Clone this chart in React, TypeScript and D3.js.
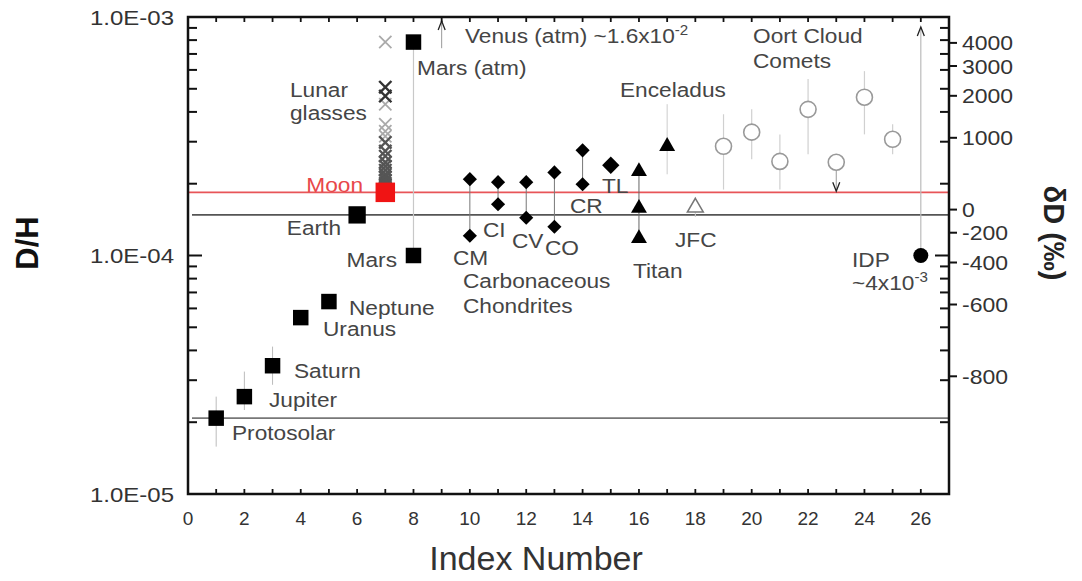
import React from 'react';
import * as d3 from 'd3';

// D/H values, index number on x
const bodyNames = ['Protosolar', 'Jupiter', 'Saturn', 'Uranus', 'Neptune', 'Earth', 'Mars', 'Mars (atm)'];
const bodyIndex = [1, 2, 3, 4, 5, 6, 8, 8];
const bodyDH = [2.08e-5, 2.56e-5, 3.45e-5, 5.49e-5, 6.41e-5, 1.48e-4, 1.0e-4, 7.85e-4];
const bodyErrLo = [1.58e-5, 2.25e-5, 2.87e-5, null, null, null, null, null];
const bodyErrHi = [2.56e-5, 3.26e-5, 4.15e-5, null, null, null, null, null];

const moonIndex = 7;
const moonDH = 1.84e-4;
const lunarLight = [7.85e-4, 4.31e-4, 3.55e-4, 3.32e-4, 3.16e-4];
const lunarDark = [5.08e-4, 4.66e-4, 2.98e-4, 2.74e-4, 2.61e-4, 2.46e-4, 2.37e-4, 2.28e-4, 2.19e-4, 2.13e-4, 2.07e-4, 2.01e-4, 1.95e-4];

const venusIndex = 9;
const venusFrom = 7.4e-4;

const chondriteNames = ['CM', 'CI', 'CV', 'CO', 'CR', 'TL'];
const chondriteIndex = [10, 11, 12, 13, 14, 15];
const chondriteHigh = [2.09e-4, 2.03e-4, 2.03e-4, 2.23e-4, 2.76e-4, 2.39e-4];
const chondriteLow = [1.21e-4, 1.64e-4, 1.44e-4, 1.32e-4, 1.99e-4, null];

const titanIndex = 16;
const titanDH = [2.25e-4, 1.58e-4, 1.18e-4];
const enceladusIndex = 17;
const enceladusDH = 2.87e-4;
const enceladusErr = [2.19e-4, 4.31e-4];
const jfcIndex = 18;
const jfcDH = 1.59e-4;
const jfcErr = [1.45e-4, 1.75e-4];

const oortIndex = [19, 20, 21, 22, 23, 24, 25];
const oortDH = [2.87e-4, 3.29e-4, 2.48e-4, 4.1e-4, 2.46e-4, 4.61e-4, 3.07e-4];
const oortLo = [1.89e-4, 2.53e-4, 1.89e-4, 2.66e-4, 1.86e-4, 3.22e-4, 2.66e-4];
const oortHi = [3.91e-4, 4.1e-4, 3.22e-4, 5.49e-4, null, 5.93e-4, 3.55e-4];

const idpIndex = 26;
const idpDH = 1.0e-4;

const protosolarLine = 2.08e-5;
const earthLine = 1.48e-4;

const xTicks = d3.range(0, 27, 2);
const yLabels = [1e-3, 1e-4, 1e-5];
const yTickText = ['1.0E-03', '1.0E-04', '1.0E-05'];
const dDTicks = [4000, 3000, 2000, 1000, 0, -200, -400, -600, -800];
const VSMOW = 1.5576e-4;

const W = 1082, H = 581;
const L = 188, R = 949, TOP = 17, BOT = 494;
const font = 'Liberation Sans, Arial, Helvetica, sans-serif';

const x = d3.scaleLinear().domain([0, 27]).range([L, R]);
const y = d3.scaleLog().domain([1e-5, 1e-3]).range([BOT, TOP]);
const yD = (d: number) => y(VSMOW * (1 + d / 1000));

const sym = (type: any, size: number) => d3.symbol().type(type).size(size)() as string;

const T = ({ x, y, children, size = 21, anchor = 'start', fill = '#454545', sx = 1.08, weight = 'normal', rotate = 0 }: any) => (
  <text
    transform={`translate(${x},${y}) rotate(${rotate}) scale(${sx},1)`}
    fontSize={size}
    textAnchor={anchor}
    fill={fill}
    fontWeight={weight}
    fontFamily={font}
  >
    {children}
  </text>
);

const Arrow = ({ cx, cy, dir }: any) => (
  <path d={`M${cx - 3.5},${cy + dir * -9} L${cx},${cy} L${cx + 3.5},${cy + dir * -9}`} fill="none" stroke="#222" strokeWidth={1.3} />
);

export default function App() {
  const minor: number[] = [];
  [1e-5, 1e-4].forEach(dec => {
    for (let k = 2; k <= 9; k++) minor.push(dec * k);
  });
  const sup = (txt: string) => (
    <tspan dy={-8} fontSize={14}>{txt}</tspan>
  );

  return (
    <svg width={W} height={H} style={{ position: 'absolute', left: 0, top: 0, background: '#fff' }}>
      <rect width={W} height={H} fill="#fff" />

      {/* reference lines */}
      <line x1={L + 4} x2={R} y1={y(protosolarLine)} y2={y(protosolarLine)} stroke="#777" strokeWidth={1.6} />
      <line x1={L + 4} x2={R} y1={y(earthLine)} y2={y(earthLine)} stroke="#555" strokeWidth={1.6} />
      <line x1={L} x2={R} y1={y(moonDH)} y2={y(moonDH)} stroke="#e85558" strokeWidth={1.6} />

      {/* error bars & ranges */}
      {bodyIndex.map((b, i) =>
        bodyErrLo[i] != null ? (
          <line key={'eb' + i} x1={x(b)} x2={x(b)} y1={y(bodyErrLo[i] as number)} y2={y(bodyErrHi[i] as number)} stroke="#bbb" strokeWidth={1} />
        ) : null
      )}
      <line x1={x(8)} x2={x(8)} y1={y(bodyDH[6])} y2={y(bodyDH[7])} stroke="#c8c8c8" strokeWidth={1.2} />
      <line x1={x(venusIndex)} x2={x(venusIndex)} y1={y(venusFrom)} y2={TOP + 4} stroke="#999" strokeWidth={1} />
      <Arrow cx={x(venusIndex)} cy={TOP + 4} dir={-1} />
      {chondriteIndex.map((c, i) =>
        chondriteLow[i] != null ? (
          <line key={'cl' + i} x1={x(c)} x2={x(c)} y1={y(chondriteLow[i] as number)} y2={y(chondriteHigh[i])} stroke="#777" strokeWidth={1} />
        ) : null
      )}
      <line x1={x(titanIndex)} x2={x(titanIndex)} y1={y(titanDH[0])} y2={y(titanDH[2])} stroke="#666" strokeWidth={1} />
      <line x1={x(enceladusIndex)} x2={x(enceladusIndex)} y1={y(enceladusErr[0])} y2={y(enceladusErr[1])} stroke="#ccc" strokeWidth={1} />
      <line x1={x(jfcIndex)} x2={x(jfcIndex)} y1={y(jfcErr[0])} y2={y(jfcErr[1])} stroke="#ccc" strokeWidth={1} />
      {oortIndex.map((o, i) =>
        oortHi[i] != null ? (
          <line key={'oe' + i} x1={x(o)} x2={x(o)} y1={y(oortLo[i])} y2={y(oortHi[i] as number)} stroke="#d0d0d0" strokeWidth={1.2} />
        ) : (
          <g key={'oe' + i}>
            <line x1={x(o)} x2={x(o)} y1={y(oortDH[i])} y2={y(oortLo[i])} stroke="#999" strokeWidth={1} />
            <Arrow cx={x(o)} cy={y(oortLo[i])} dir={1} />
          </g>
        )
      )}
      <line x1={x(idpIndex)} x2={x(idpIndex)} y1={y(idpDH)} y2={TOP + 10} stroke="#bbb" strokeWidth={1.2} />
      <Arrow cx={x(idpIndex)} cy={TOP + 10} dir={-1} />

      {/* lunar glasses */}
      {lunarLight.map((v, i) => (
        <path key={'ll' + i} d={sym(d3.symbolX, 100)} transform={`translate(${x(moonIndex)},${y(v)})`} stroke="#aaa" strokeWidth={1.8} fill="none" />
      ))}
      {lunarDark.map((v, i) => (
        <path key={'ld' + i} d={sym(d3.symbolX, 100)} transform={`translate(${x(moonIndex)},${y(v)})`} stroke={i < 2 ? '#333' : '#555'} strokeWidth={2.4} fill="none" />
      ))}

      {/* planets */}
      {bodyIndex.map((b, i) => (
        <path key={'b' + i} d={sym(d3.symbolSquare, i === 5 ? 300 : 240)} transform={`translate(${x(b)},${y(bodyDH[i])})`} fill="#000" />
      ))}
      <path d={sym(d3.symbolSquare, 380)} transform={`translate(${x(moonIndex)},${y(moonDH)})`} fill="#f01414" />

      {/* chondrites */}
      {chondriteIndex.map((c, i) => (
        <g key={'ch' + i}>
          <path d={sym(d3.symbolSquare, i === 5 ? 150 : 100)} transform={`translate(${x(c)},${y(chondriteHigh[i])}) rotate(45)`} fill="#000" />
          {chondriteLow[i] != null && (
            <path d={sym(d3.symbolSquare, 100)} transform={`translate(${x(c)},${y(chondriteLow[i] as number)}) rotate(45)`} fill="#000" />
          )}
        </g>
      ))}

      {/* icy bodies */}
      {titanDH.map((v, i) => (
        <path key={'ti' + i} d={sym(d3.symbolTriangle, 110)} transform={`translate(${x(titanIndex)},${y(v)})`} fill="#000" />
      ))}
      <path d={sym(d3.symbolTriangle, 110)} transform={`translate(${x(enceladusIndex)},${y(enceladusDH)})`} fill="#000" />
      <path d={sym(d3.symbolTriangle, 110)} transform={`translate(${x(jfcIndex)},${y(jfcDH)})`} fill="#fff" stroke="#777" strokeWidth={1.5} />
      {oortIndex.map((o, i) => (
        <circle key={'oc' + i} cx={x(o)} cy={y(oortDH[i])} r={8} fill="#fff" stroke="#999" strokeWidth={1.6} />
      ))}
      <circle cx={x(idpIndex)} cy={y(idpDH)} r={7.5} fill="#000" />

      {/* frame & ticks */}
      <rect x={L} y={TOP} width={R - L} height={BOT - TOP} fill="none" stroke="#111" strokeWidth={2.5} />
      {d3.range(1, 27).map(t => (
        <g key={'xt' + t}>
          <line x1={x(t)} x2={x(t)} y1={BOT} y2={BOT - 5} stroke="#111" strokeWidth={1.8} />
          <line x1={x(t)} x2={x(t)} y1={TOP} y2={TOP + 5} stroke="#111" strokeWidth={1.8} />
        </g>
      ))}
      {minor.concat([1e-4]).map((v, i) => (
        <g key={'yt' + i}>
          <line x1={L} x2={L + (v === 1e-4 ? 14 : 9)} y1={y(v)} y2={y(v)} stroke="#111" strokeWidth={2} />
          <line x1={R} x2={R - (v === 1e-4 ? 14 : 9)} y1={y(v)} y2={y(v)} stroke="#111" strokeWidth={2} />
        </g>
      ))}
      {dDTicks.map(d => (
        <g key={'dd' + d}>
          <line x1={R} x2={R + 8} y1={yD(d)} y2={yD(d)} stroke="#111" strokeWidth={2} />
          <T x={R + 13} y={yD(d) + 7.5} size={20} sx={1.15} fill="#333">{String(d)}</T>
        </g>
      ))}

      {/* axis labels */}
      {xTicks.map(t => (
        <T key={'xl' + t} x={x(t)} y={525} size={19} sx={1} anchor="middle" fill="#333">{String(t)}</T>
      ))}
      {yLabels.map((v, i) => (
        <T key={'yl' + i} x={174} y={y(v) + 7.5} size={20} sx={1.2} anchor="end" fill="#333">{yTickText[i]}</T>
      ))}
      <T x={536} y={570} size={34} sx={1} anchor="middle" fill="#333">Index Number</T>
      <T x={38} y={243} size={31} sx={1} anchor="middle" fill="#111" weight="bold" rotate={-90}>D/H</T>
      <T x={1044} y={233} size={29} sx={1} anchor="middle" fill="#222" weight="bold" rotate={90}>δD (‰)</T>

      {/* annotations */}
      <T x={232} y={440}>{bodyNames[0]}</T>
      <T x={269} y={407}>{bodyNames[1]}</T>
      <T x={294} y={378}>{bodyNames[2]}</T>
      <T x={323} y={336}>{bodyNames[3]}</T>
      <T x={349} y={315}>{bodyNames[4]}</T>
      <T x={341} y={235} anchor="end">{bodyNames[5]}</T>
      <T x={397} y={267} anchor="end">{bodyNames[6]}</T>
      <T x={417} y={75}>{bodyNames[7]}</T>
      <T x={363} y={192} anchor="end" fill="#e8474a">Moon</T>
      <T x={290} y={97}>Lunar</T>
      <T x={290} y={120}>glasses</T>
      <T x={465} y={43}>Venus (atm) ~1.6x10{sup('-2')}</T>
      <T x={453} y={265}>{chondriteNames[0]}</T>
      <T x={483} y={237}>{chondriteNames[1]}</T>
      <T x={512} y={248}>{chondriteNames[2]}</T>
      <T x={545} y={255}>{chondriteNames[3]}</T>
      <T x={570} y={213}>{chondriteNames[4]}</T>
      <T x={602} y={193}>{chondriteNames[5]}</T>
      <T x={463} y={288}>Carbonaceous</T>
      <T x={463} y={313}>Chondrites</T>
      <T x={633} y={278}>Titan</T>
      <T x={620} y={97}>Enceladus</T>
      <T x={675} y={247}>JFC</T>
      <T x={753} y={43}>Oort Cloud</T>
      <T x={753} y={68}>Comets</T>
      <T x={852} y={267}>IDP</T>
      <T x={852} y={290}>~4x10{sup('-3')}</T>
    </svg>
  );
}
